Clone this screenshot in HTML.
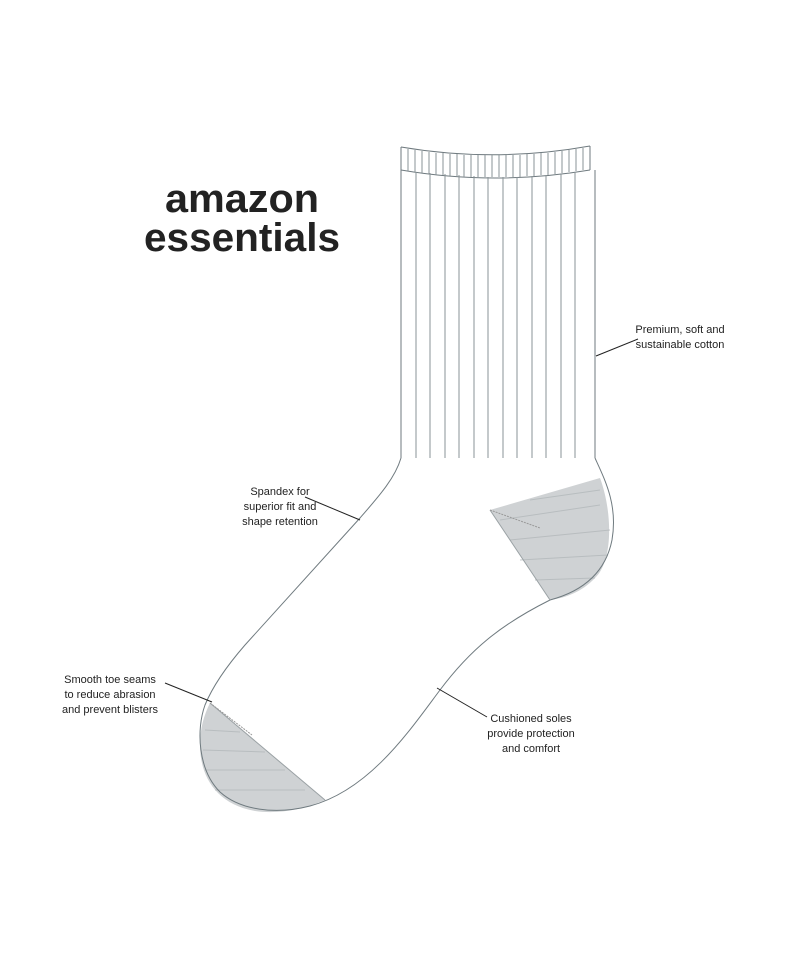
<!DOCTYPE html>
<html><head><meta charset="utf-8"><style>
html,body{margin:0;padding:0;background:#fff;}
svg{display:block}
text{font-family:"Liberation Sans",sans-serif;fill:#222;}
</style></head><body>
<svg width="800" height="960" viewBox="0 0 800 960" xmlns="http://www.w3.org/2000/svg">
<text x="242" y="212" font-size="40" font-weight="bold" text-anchor="middle" textLength="154" lengthAdjust="spacingAndGlyphs" fill="#111">amazon</text>
<text x="242" y="251" font-size="40" font-weight="bold" text-anchor="middle" textLength="196" lengthAdjust="spacingAndGlyphs" fill="#111">essentials</text>

<path d="M490,510 L600,478 C612,510 614,560 595,578 C582,592 565,598 550,600 Z" fill="#cfd2d4"/>
<path d="M210,703 L325,800 C300,811 275,814 255,811 C215,804 200,775 200,745 C200,728 204,715 210,703 Z" fill="#cfd2d4"/>
<g stroke="#b3b8bb" stroke-width="1" opacity="0.8">
<line x1="500" y1="520" x2="600" y2="505"/><line x1="510" y1="540" x2="610" y2="530"/><line x1="520" y1="560" x2="608" y2="555"/><line x1="535" y1="580" x2="595" y2="578"/><line x1="530" y1="500" x2="600" y2="490"/>
<line x1="205" y1="730" x2="240" y2="732"/><line x1="203" y1="750" x2="265" y2="752"/><line x1="205" y1="770" x2="285" y2="770"/><line x1="215" y1="790" x2="305" y2="790"/>
</g>
<g fill="none" stroke="#6f7a7f" stroke-width="1">
<path d="M401,147 Q495,163 590,146"/>
<path d="M401,170 Q495,186 590,170"/>
<line x1="401" y1="147" x2="401" y2="458"/>
<line x1="590" y1="146" x2="590" y2="170"/>
<line x1="595" y1="170" x2="595" y2="458"/>
<g stroke="#8a9397" id="cuff">
<line x1="408" y1="149" x2="408" y2="171"/><line x1="415" y1="150" x2="415" y2="172"/><line x1="422" y1="151" x2="422" y2="173"/><line x1="429" y1="152" x2="429" y2="174"/><line x1="436" y1="153" x2="436" y2="175"/><line x1="443" y1="153" x2="443" y2="175"/><line x1="450" y1="154" x2="450" y2="176"/><line x1="457" y1="154" x2="457" y2="176"/><line x1="464" y1="155" x2="464" y2="177"/><line x1="471" y1="155" x2="471" y2="177"/><line x1="478" y1="155" x2="478" y2="177"/><line x1="485" y1="155" x2="485" y2="177"/><line x1="492" y1="155" x2="492" y2="177"/><line x1="499" y1="155" x2="499" y2="177"/><line x1="506" y1="155" x2="506" y2="177"/><line x1="513" y1="155" x2="513" y2="177"/><line x1="520" y1="155" x2="520" y2="177"/><line x1="527" y1="154" x2="527" y2="176"/><line x1="534" y1="154" x2="534" y2="176"/><line x1="541" y1="153" x2="541" y2="175"/><line x1="548" y1="153" x2="548" y2="175"/><line x1="555" y1="152" x2="555" y2="174"/><line x1="562" y1="151" x2="562" y2="173"/><line x1="569" y1="150" x2="569" y2="172"/><line x1="576" y1="149" x2="576" y2="171"/><line x1="583" y1="148" x2="583" y2="170"/>
</g>
<g stroke="#8a9397">
<line x1="416" y1="172" x2="416" y2="458"/><line x1="430" y1="173" x2="430" y2="458"/><line x1="445" y1="174" x2="445" y2="458"/><line x1="459" y1="175" x2="459" y2="458"/><line x1="474" y1="176" x2="474" y2="458"/><line x1="488" y1="177" x2="488" y2="458"/><line x1="503" y1="177" x2="503" y2="458"/><line x1="517" y1="177" x2="517" y2="458"/><line x1="532" y1="176" x2="532" y2="458"/><line x1="546" y1="175" x2="546" y2="458"/><line x1="561" y1="174" x2="561" y2="458"/><line x1="575" y1="172" x2="575" y2="458"/>
</g>
<path d="M401,458 C395,478 380,495 360,518 L245,645 C225,668 212,688 205,705 C196,730 198,770 220,792 C240,810 275,815 310,806 C370,790 410,730 440,690 C470,650 500,625 550,600 C580,592 605,575 612,540 C618,505 605,480 595,458"/>
<path d="M490,510 L550,600" stroke="#9aa1a4"/>
<path d="M210,703 L325,800" stroke="#9aa1a4"/>
<path d="M490,510 L540,528" stroke="#999" stroke-dasharray="2,1"/>
<path d="M210,703 L252,735" stroke="#999" stroke-dasharray="2,1"/>
</g>
<g stroke="#222" stroke-width="1">
<line x1="596" y1="356" x2="638" y2="339"/>
<line x1="305" y1="497" x2="360" y2="520"/>
<line x1="165" y1="683" x2="212" y2="702"/>
<line x1="437" y1="688" x2="487" y2="717"/>
</g>
<g font-size="11" text-anchor="middle">
<text x="680" y="333">Premium, soft and</text>
<text x="680" y="348">sustainable cotton</text>
<text x="280" y="495">Spandex for</text>
<text x="280" y="510">superior fit and</text>
<text x="280" y="525">shape retention</text>
<text x="110" y="683">Smooth toe seams</text>
<text x="110" y="698">to reduce abrasion</text>
<text x="110" y="713">and prevent blisters</text>
<text x="531" y="722">Cushioned soles</text>
<text x="531" y="737">provide protection</text>
<text x="531" y="752">and comfort</text>
</g>
</svg>
</body></html>
